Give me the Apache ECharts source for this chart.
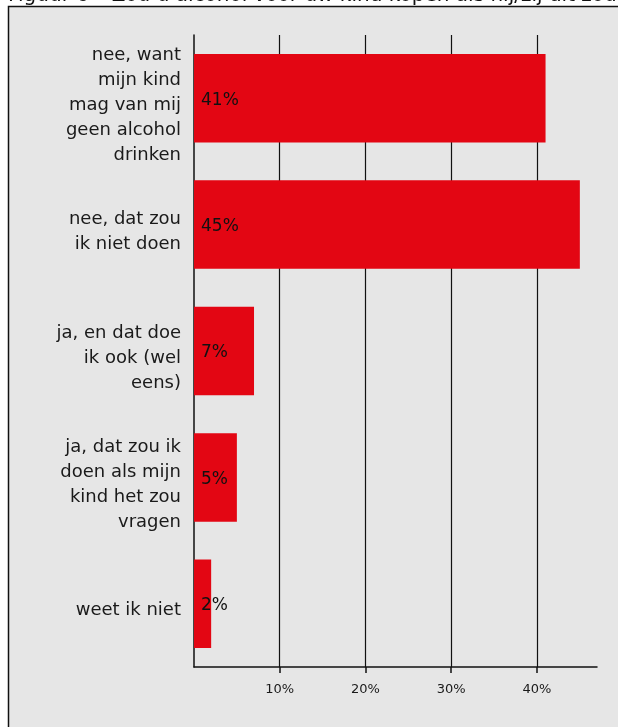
<!DOCTYPE html>
<html>
<head>
<meta charset="utf-8">
<script src="https://cdn.jsdelivr.net/npm/echarts@6/dist/echarts.min.js"></script>
<style>
  html, body { margin: 0; padding: 0; background: #ffffff; }
  #chart { width: 618px; height: 727px; }
</style>
</head>
<body>
<div id="chart"></div>
<script>
// Answers (top to bottom) and the share of parents giving each answer, in %
var categories = [
  'nee, want\nmijn kind\nmag van mij\ngeen alcohol\ndrinken',
  'nee, dat zou\nik niet doen',
  'ja, en dat doe\nik ook (wel\neens)',
  'ja, dat zou ik\ndoen als mijn\nkind het zou\nvragen',
  'weet ik niet'
];
var shares = [41, 45, 7, 5, 2];
var tickValues = [10, 20, 30, 40];
var titleText = 'Figuur 6 \u2013 Zou u alcohol voor uw kind kopen als hij/zij dit zou vragen?';

var FONT = 'DejaVu Sans';
var chart = echarts.init(document.getElementById('chart'), null, { renderer: 'canvas' });

// Category text sits a little below the bar centre: a thin spacer line on top
function categoryLabel(value) {
  return '{gap| }\n' + value.split('\n').map(function (line) {
    return '{txt|' + line + '}';
  }).join('\n');
}

chart.setOption({
  backgroundColor: '#ffffff',
  animation: false,
  graphic: [
    {
      type: 'rect', z: -10, silent: true,
      shape: { x: 8.5, y: 6.5, width: 700, height: 800 },
      style: { fill: '#e6e6e6', stroke: '#111111', lineWidth: 1.5 }
    },
    {
      type: 'text', left: 8, top: -14, silent: true,
      style: { text: titleText, fill: '#111111', font: '20px "' + FONT + '"' }
    }
  ],
  grid: { left: 194, right: 21, top: 35, bottom: 60, containLabel: false },
  xAxis: {
    type: 'value', min: 0, max: 47, interval: 10,
    axisLine: { show: true, lineStyle: { color: '#111111', width: 1.5 } },
    axisTick: { show: true, length: 6, customValues: tickValues,
      lineStyle: { color: '#111111', width: 1.5 } },
    axisLabel: {
      customValues: tickValues,
      formatter: function (v) { return v + '%'; },
      color: '#1a1a1a', fontFamily: FONT, fontSize: 13, margin: 16
    },
    splitLine: { show: true,
      lineStyle: { color: ['#111111', '#111111', '#111111', '#111111', '#111111', 'rgba(0,0,0,0)'], width: 1.2 } }
  },
  yAxis: {
    type: 'category', data: categories, inverse: true,
    axisLine: { show: true, lineStyle: { color: '#111111', width: 1.5 } },
    axisTick: { show: false },
    axisLabel: {
      margin: 13, align: 'right',
      formatter: categoryLabel,
      rich: {
        gap: { fontSize: 2, lineHeight: 14, align: 'right' },
        txt: { color: '#1a1a1a', fontFamily: FONT, fontSize: 18, lineHeight: 25, align: 'right' }
      }
    },
    splitLine: { show: false }
  },
  series: [{
    type: 'bar', data: shares, barCategoryGap: '30%',
    itemStyle: { color: '#e30613' },
    label: {
      show: true, position: 'insideLeft', distance: 7, offset: [0, 2],
      formatter: function (p) { return p.value + '%'; },
      color: '#111111', fontFamily: FONT, fontSize: 17
    }
  }]
});
</script>
</body>
</html>
